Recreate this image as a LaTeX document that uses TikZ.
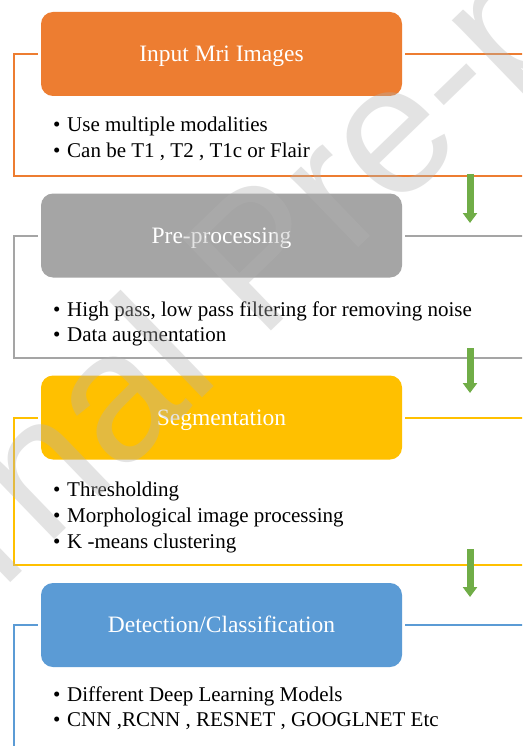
\documentclass[tikz,border=0pt]{standalone}
\usepackage{fontspec}
\setmainfont{Liberation Serif}
\newfontfamily\wmfont{Liberation Sans}
\usetikzlibrary{arrows.meta}
\definecolor{corange}{HTML}{ED7D31}
\definecolor{cgray}{HTML}{A5A5A5}
\definecolor{cyellow}{HTML}{FFC000}
\definecolor{cblue}{HTML}{5B9BD5}
\definecolor{cgreen}{HTML}{70AD47}
\tikzset{
  head/.style={rounded corners=12pt, minimum width=361pt, minimum height=84pt,
    inner sep=0pt, text=white, text height=15.6pt, text depth=0pt,
    font=\fontsize{23.5}{28}\selectfont},
  frame/.style={line width=2pt},
  bul/.style={anchor=base west, inner sep=0pt, font=\fontsize{21}{26}\selectfont},
  garrow/.style={draw=cgreen, line width=7pt, -{Triangle[width=14pt,length=10pt]}},
}
\newcommand{\bt}[1]{\makebox[14pt][l]{•}#1}
\begin{document}
\begin{tikzpicture}[x=1pt,y=-1pt]
\useasboundingbox (0,0) rectangle (522,746);
\clip (0,0) rectangle (522,746);
\fill[white] (0,0) rectangle (522,746);

% Box 1
\node[head, fill=corange] (h1) at (221.5,54) {Input Mri Images};
\draw[frame, corange] ([xshift=-3pt]h1.west) -| (14,176) -- (540,176);
\draw[frame, corange] ([xshift=3pt]h1.east) -- ++(140,0);
\node[bul] (b1a) at (53,131.7) {\bt{Use multiple modalities}};
\node[bul] (b1b) at (53,158) {\bt{Can be T1 , T2 , T1c or Flair}};

% Box 2
\node[head, fill=cgray] (h2) at (221.5,235.5) {Pre-processing};
\draw[frame, cgray] ([xshift=-3pt]h2.west) -| (14,358) -- (540,358);
\draw[frame, cgray] ([xshift=3pt]h2.east) -- ++(140,0);
\node[bul] (b2a) at (53,316) {\bt{High pass, low pass filtering for removing noise}};
\node[bul] (b2b) at (53,341.7) {\bt{Data augmentation}};

% Box 3
\node[head, fill=cyellow] (h3) at (221.5,417.5) {Segmentation};
\draw[frame, cyellow] ([xshift=-3pt]h3.west) -| (14,565) -- (540,565);
\draw[frame, cyellow] ([xshift=3pt]h3.east) -- ++(140,0);
\node[bul] (b3a) at (53,496.7) {\bt{Thresholding}};
\node[bul] (b3b) at (53,522.5) {\bt{Morphological image processing}};
\node[bul] (b3c) at (53,548.3) {\bt{K -means clustering}};

% Box 4
\node[head, fill=cblue] (h4) at (221.5,625) {Detection/Classification};
\draw[frame, cblue] ([xshift=-3pt]h4.west) -| (14,760);
\draw[frame, cblue] ([xshift=3pt]h4.east) -- ++(140,0);
\node[bul] (b4a) at (53,701.7) {\bt{Different Deep Learning Models}};
\node[bul] (b4b) at (53,726.7) {\bt{CNN ,RCNN , RESNET , GOOGLNET Etc}};

% Arrows
\coordinate (a1s) at (470,174);
\coordinate (a1e) at (470,223);
\coordinate (a2s) at (470,348);
\coordinate (a2e) at (470,393);
\coordinate (a3s) at (470,549);
\coordinate (a3e) at (470,597);
\draw[garrow] (a1s) -- (a1e);
\draw[garrow] (a2s) -- (a2e);
\draw[garrow] (a3s) -- (a3e);

% Watermark
\node[rotate=44, anchor=base west, inner sep=0pt, text=black!30, text opacity=0.36,
  font=\wmfont\fontsize{185}{185}\selectfont] (wm) at (-213,799) {Journal Pre-proof};
\end{tikzpicture}
\end{document}
